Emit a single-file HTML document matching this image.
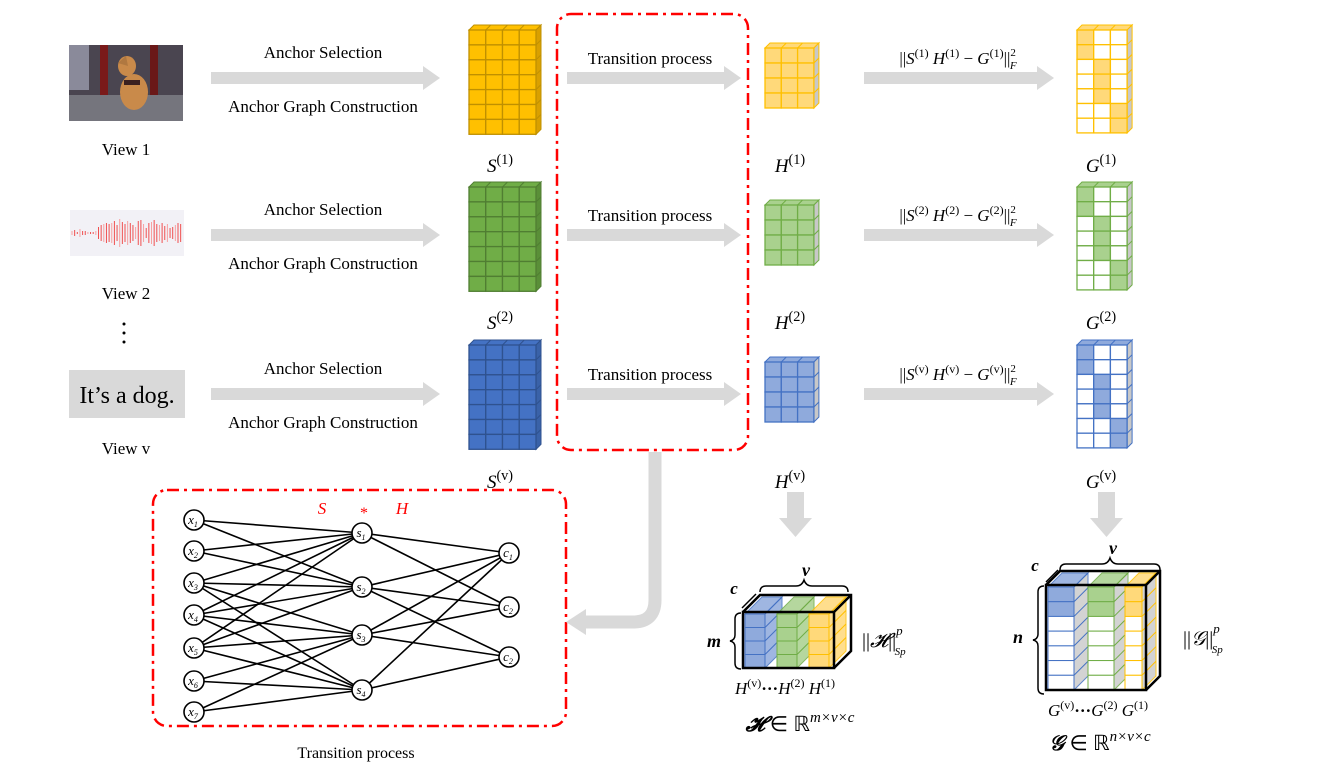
<!DOCTYPE html>
<html><head><meta charset="utf-8">
<style>
html,body{margin:0;padding:0;background:#fff;}
svg{display:block;}
text{font-family:"Liberation Serif",serif;fill:#000;}
.m{font-style:italic;}
</style></head>
<body>
<svg id="s" width="1329" height="764" viewBox="0 0 1329 764" xmlns="http://www.w3.org/2000/svg">
<defs>
<marker id="ah" markerWidth="4" markerHeight="4" refX="0" refY="2" orient="auto" markerUnits="strokeWidth"></marker>
</defs>
<!-- View 1 photo -->
<g>
<rect x="69" y="45" width="114" height="76" fill="#4a4550"/>
<rect x="69" y="45" width="20" height="45" fill="#8a8a9a"/>
<rect x="100" y="45" width="8" height="50" fill="#7a1a1a"/>
<rect x="150" y="45" width="8" height="50" fill="#6a1818"/>
<rect x="69" y="95" width="114" height="26" fill="#75757d"/>
<ellipse cx="134" cy="92" rx="14" ry="18" fill="#c98a4a"/>
<ellipse cx="127" cy="66" rx="9" ry="10" fill="#c98a4a"/>
<polygon points="118,63 126,56 128,66" fill="#b07840"/>
<rect x="124" y="80" width="16" height="5" fill="#3a2020"/>
</g>
<text x="126" y="155" font-size="17" text-anchor="middle">View 1</text>
<!-- View 2 waveform -->
<rect x="70" y="210" width="114" height="46" fill="#f2f1f6"/>
<g id="wave" stroke="#f05050" stroke-width="1"></g>
<text x="126" y="299" font-size="17" text-anchor="middle">View 2</text>
<circle cx="124" cy="324" r="1.5" fill="#000"/><circle cx="124" cy="333" r="1.5" fill="#000"/><circle cx="124" cy="342" r="1.5" fill="#000"/>
<rect x="69" y="370" width="116" height="48" fill="#d9d9d9"/>
<text x="127" y="403" font-size="24" text-anchor="middle">It’s a dog.</text>
<text x="126" y="454" font-size="17" text-anchor="middle">View v</text>

<g id="arrows" fill="#d9d9d9"></g>
<g id="labels"></g>

<!-- red dashed boxes -->
<rect x="557" y="14" width="191" height="436" rx="14" fill="none" stroke="#ff0000" stroke-width="2.5" stroke-dasharray="12,5,3,5"/>
<rect x="153" y="490" width="413" height="236" rx="14" fill="none" stroke="#ff0000" stroke-width="2.5" stroke-dasharray="12,5,3,5"/>

<!-- curved arrow -->
<path d="M655,452 L655,600 Q655,622 633,622 L585,622" fill="none" stroke="#d9d9d9" stroke-width="13"/>
<polygon points="586,609 566,622 586,635" fill="#d9d9d9"/>
<!-- down arrows -->
<rect x="787" y="492" width="17" height="28" fill="#d9d9d9"/>
<polygon points="779,518 812,518 795.5,537" fill="#d9d9d9"/>
<rect x="1098" y="492" width="17" height="28" fill="#d9d9d9"/>
<polygon points="1090,518 1123,518 1106.5,537" fill="#d9d9d9"/>

<g id="cubes"></g>
<g id="graph" stroke="#000" stroke-width="1.6"></g>
<g id="nodes"></g>
<text x="322" y="514" font-size="17" class="m" style="fill:#ff0000" text-anchor="middle">S</text>
<text x="364" y="518" font-size="16" style="fill:#ff0000" text-anchor="middle">*</text>
<text x="402" y="514" font-size="17" class="m" style="fill:#ff0000" text-anchor="middle">H</text>
<text x="356" y="758" font-size="16" text-anchor="middle">Transition process</text>

<g id="big"></g>
</svg>
<script>
var NS="http://www.w3.org/2000/svg";
function el(p,t,a,txt){var e=document.createElementNS(NS,t);for(var k in a)e.setAttribute(k,a[k]);if(txt!==undefined)e.textContent=txt;p.appendChild(e);return e;}
var S=document.getElementById('s');
// wave
var w=document.getElementById('wave');
var hs=[2,3,1,4,2,2,1,1,1,2,6,8,9,10,9,10,12,8,14,11,9,12,10,8,6,12,13,9,5,10,11,13,9,8,10,7,9,5,6,8,10,9];
for(var i=0;i<hs.length;i++){var x=72+i*2.65;var h=hs[i];el(w,'line',{x1:x,x2:x,y1:233-h,y2:233+h,stroke:(i%3==0?'#f8a0a0':'#f05050')});}
// arrows
var A=document.getElementById('arrows');
function harrow(x1,x2,y){el(A,'rect',{x:x1,y:y-6,width:x2-x1-16,height:12});el(A,'polygon',{points:(x2-17)+','+(y-12)+' '+x2+','+y+' '+(x2-17)+','+(y+12)});}
var L=document.getElementById('labels');
function t(x,y,s,sz,anc){return el(L,'text',{x:x,y:y,'font-size':sz||17,'text-anchor':anc||'middle'},s);}
function math(x,y,base,sup,sz){var tx=el(L,'text',{x:x,y:y,'font-size':sz||19,'text-anchor':'middle'});el(tx,'tspan',{'font-style':'italic'},base);el(tx,'tspan',{dy:-8,'font-size':(sz||19)*0.75},sup);return tx;}
var rows=[78,235,394],sups=['(1)','(2)','(v)'];
for(var r=0;r<3;r++){var y=rows[r];
harrow(211,440,y);harrow(567,741,y);harrow(864,1054,y);
t(323,y-20,'Anchor Selection');t(323,y+34,'Anchor Graph Construction');
t(650,y-14,'Transition process');
var tx=el(L,'text',{x:958,y:y-14,'font-size':17,'text-anchor':'middle'});
el(tx,'tspan',{},'||');el(tx,'tspan',{'font-style':'italic'},'S');el(tx,'tspan',{dy:-7,'font-size':12},sups[r]);
el(tx,'tspan',{dy:7,'font-style':'italic'},' H');el(tx,'tspan',{dy:-7,'font-size':12},sups[r]);
el(tx,'tspan',{dy:7},' − ');el(tx,'tspan',{'font-style':'italic'},'G');el(tx,'tspan',{dy:-7,'font-size':12},sups[r]);
el(tx,'tspan',{dy:7},'||');el(tx,'tspan',{dy:-8,'font-size':11},'2');el(tx,'tspan',{dx:-6,dy:13,'font-size':11,'font-style':'italic'},'F');
math(500,y+94,'S',sups[r]);math(790,y+94,'H',sups[r]);math(1101,y+94,'G',sups[r]);
}
// cubes
var C=document.getElementById('cubes');
function cube(x,y,cols,rows,cw,ch,d,fill,stroke,side,top,mask){
var W=cols*cw,H=rows*ch;
el(C,'polygon',{points:x+','+y+' '+(x+d)+','+(y-d)+' '+(x+W+d)+','+(y-d)+' '+(x+W)+','+y,fill:top,stroke:stroke,'stroke-width':1});
for(var c=1;c<cols;c++)el(C,'line',{x1:x+c*cw,y1:y,x2:x+c*cw+d,y2:y-d,stroke:stroke});
el(C,'polygon',{points:(x+W)+','+y+' '+(x+W+d)+','+(y-d)+' '+(x+W+d)+','+(y+H-d)+' '+(x+W)+','+(y+H),fill:side,stroke:stroke,'stroke-width':1});
for(var rr=1;rr<rows;rr++)el(C,'line',{x1:x+W,y1:y+rr*ch,x2:x+W+d,y2:y+rr*ch-d,stroke:stroke});
for(var rr=0;rr<rows;rr++)for(var c=0;c<cols;c++){var f=fill;if(mask){f=mask(rr,c)?fill:'#fff';}
el(C,'rect',{x:x+c*cw,y:y+rr*ch,width:cw,height:ch,fill:f,stroke:stroke,'stroke-width':1.3});}
}
var Sc=[['#ffc000','#bf9000','#d9a000'],['#70ad47','#507e32','#5a8f38'],['#4472c4','#2f528f','#3a62a8']];
var Hc=[['#ffd97a','#ffc000','#e8c060'],['#a9d18e','#70ad47','#90b878'],['#8faadc','#4472c4','#7a96c8']];
var sy=[30,187,345],hy=[48,205,362],gy=[30,187,345];
for(var r=0;r<3;r++){
cube(469,sy[r],4,7,16.75,14.9,5,Sc[r][0],Sc[r][1],Sc[r][2],Sc[r][0]);
cube(765,hy[r],3,4,16.3,15,5,Hc[r][0],Hc[r][1],'#c8c8c8',Hc[r][0]);
cube(1077,gy[r],3,7,16.7,14.7,5,Hc[r][0],Hc[r][1],'#c8c8c8',Hc[r][0],function(rr,c){return (c==0&&rr<2)||(c==1&&rr>=2&&rr<5)||(c==2&&rr>=5);});
}
// graph
var G=document.getElementById('graph'),N=document.getElementById('nodes');
var xs=[520,551,583,615,648,681,712],ss=[533,587,635,690],cs=[553,607,657];
var xe=[[0,1],[0,1],[0,1,2,3],[0,1,2,3],[0,1,2,3],[2,3],[2,3]];
for(var i=0;i<7;i++)for(var j=0;j<xe[i].length;j++)el(G,'line',{x1:194,y1:xs[i],x2:362,y2:ss[xe[i][j]]});
var se=[[0,1],[0,1,2],[0,1,2],[0,2]];
for(var i=0;i<4;i++)for(var j=0;j<se[i].length;j++)el(G,'line',{x1:362,y1:ss[i],x2:509,y2:cs[se[i][j]]});
function node(x,y,l,s){el(N,'circle',{cx:x,cy:y,r:10,fill:'#fff',stroke:'#000','stroke-width':1.6});var tx=el(N,'text',{x:x-1,y:y+4,'font-size':13,'text-anchor':'middle','font-style':'italic'});el(tx,'tspan',{},l);el(tx,'tspan',{dy:3,'font-size':8},s);}
for(var i=0;i<7;i++)node(194,xs[i],'x',i+1);
for(var i=0;i<4;i++)node(362,ss[i],'s',i+1);
node(509,cs[0],'c',1);node(509,cs[1],'c',2);node(509,cs[2],'c',2);
// big cubes
var B=document.getElementById('big');
function slab(x,y,w,h,d,fill,stroke,n,mask){
el(B,'polygon',{points:x+','+y+' '+(x+d)+','+(y-d)+' '+(x+w+d)+','+(y-d)+' '+(x+w)+','+y,fill:fill,stroke:stroke,opacity:0.85});
el(B,'polygon',{points:(x+w)+','+y+' '+(x+w+d)+','+(y-d)+' '+(x+w+d)+','+(y+h-d)+' '+(x+w)+','+(y+h),fill:mask?'#ccc':fill,stroke:stroke,opacity:0.85});
var ch=h/n;for(var k=0;k<n;k++){el(B,'rect',{x:x,y:y+k*ch,width:w,height:ch,fill:(mask&&!mask(k))?'#fff':fill,stroke:stroke});
el(B,'line',{x1:x+w,y1:y+k*ch,x2:x+w+d,y2:y+k*ch-d,stroke:stroke});}
}
// H cube
var hx=743,hyy=612,hw=91,hh=56,hd=17;
slab(hx+2,hyy+2,20,hh-2,hd,'#8faadc','#4472c4',4);
slab(hx+34,hyy+2,20,hh-2,hd,'#a9d18e','#70ad47',4);
slab(hx+66,hyy+2,20,hh-2,hd,'#ffd97a','#ffc000',4);
el(B,'rect',{x:hx,y:hyy,width:hw,height:hh,fill:'none',stroke:'#000','stroke-width':2.5});
el(B,'polyline',{points:hx+','+hyy+' '+(hx+hd)+','+(hyy-hd)+' '+(hx+hw+hd)+','+(hyy-hd)+' '+(hx+hw+hd)+','+(hyy+hh-hd)+' '+(hx+hw)+','+(hyy+hh),fill:'none',stroke:'#000','stroke-width':2.5});
el(B,'line',{x1:hx+hw,y1:hyy,x2:hx+hw+hd,y2:hyy-hd,stroke:'#000','stroke-width':2.5});
function brace(d){el(B,'path',{d:d,fill:'none',stroke:'#000','stroke-width':1.5});}
brace('M760,592 q0,-6 6,-6 l30,0 q6,0 8,-6 q2,6 8,6 l30,0 q6,0 6,6');
brace('M741,613 q-6,0 -6,6 l0,16 q0,5 -5,6 q5,1 5,6 l0,16 q0,6 6,6');
brace('M742,608 l14,-14');
var bt=function(x,y,s,sz){return el(B,'text',{x:x,y:y,'font-size':sz,'text-anchor':'middle','font-style':'italic','font-weight':'bold'},s);};
bt(806,576,'v',18);bt(734,594,'c',17);bt(714,647,'m',18);
var tx=el(B,'text',{x:862,y:647,'font-size':20});el(tx,'tspan',{},'||');el(tx,'tspan',{'font-style':'italic','font-family':'Liberation Serif'},'𝓗');el(tx,'tspan',{},'||');el(tx,'tspan',{dy:-12,'font-size':13,'font-style':'italic'},'p');el(tx,'tspan',{dx:-8,dy:20,'font-size':11,'font-style':'italic'},'Sp');
var l=el(B,'text',{x:785,y:694,'font-size':17,'text-anchor':'middle'});
el(l,'tspan',{'font-style':'italic'},'H');el(l,'tspan',{dy:-7,'font-size':12},'(v)');el(l,'tspan',{dy:7,'font-weight':'bold'},'···');el(l,'tspan',{'font-style':'italic'},'H');el(l,'tspan',{dy:-7,'font-size':12},'(2)');el(l,'tspan',{dy:7,'font-style':'italic'},' H');el(l,'tspan',{dy:-7,'font-size':12},'(1)');
var l2=el(B,'text',{x:800,y:731,'font-size':21,'text-anchor':'middle'});
el(l2,'tspan',{'font-style':'italic','font-weight':'bold'},'𝓗');el(l2,'tspan',{},' ∈ ℝ');el(l2,'tspan',{dy:-9,'font-size':15,'font-style':'italic'},'m×v×c');
// G cube
var gx=1046,gyy=585,gw=100,gh=105,gd=14;
var mk=function(off){return function(k){return k<off;};};
slab(gx+2,gyy+2,26,gh-2,gd,'#8faadc','#4472c4',7,function(k){return k<2;});
slab(gx+42,gyy+2,26,gh-2,gd,'#a9d18e','#70ad47',7,function(k){return k<2;});
slab(gx+79,gyy+2,17,gh-2,gd,'#ffd97a','#ffc000',7,function(k){return k<2;});
el(B,'rect',{x:gx,y:gyy,width:gw,height:gh,fill:'none',stroke:'#000','stroke-width':2.5});
el(B,'polyline',{points:gx+','+gyy+' '+(gx+gd)+','+(gyy-gd)+' '+(gx+gw+gd)+','+(gyy-gd)+' '+(gx+gw+gd)+','+(gyy+gh-gd)+' '+(gx+gw)+','+(gyy+gh),fill:'none',stroke:'#000','stroke-width':2.5});
el(B,'line',{x1:gx+gw,y1:gyy,x2:gx+gw+gd,y2:gyy-gd,stroke:'#000','stroke-width':2.5});
brace('M1060,570 q0,-6 6,-6 l36,0 q6,0 8,-6 q2,6 8,6 l36,0 q6,0 6,6');
brace('M1044,586 q-6,0 -6,6 l0,42 q0,5 -5,6 q5,1 5,6 l0,42 q0,6 6,6');
brace('M1046,582 l12,-12');
bt(1113,554,'v',18);bt(1035,571,'c',17);bt(1018,643,'n',18);
var tx=el(B,'text',{x:1183,y:645,'font-size':20});el(tx,'tspan',{},'||');el(tx,'tspan',{'font-style':'italic'},'𝒢');el(tx,'tspan',{},'||');el(tx,'tspan',{dy:-12,'font-size':13,'font-style':'italic'},'p');el(tx,'tspan',{dx:-8,dy:20,'font-size':11,'font-style':'italic'},'Sp');
var l=el(B,'text',{x:1098,y:716,'font-size':17,'text-anchor':'middle'});
el(l,'tspan',{'font-style':'italic'},'G');el(l,'tspan',{dy:-7,'font-size':12},'(v)');el(l,'tspan',{dy:7,'font-weight':'bold'},'···');el(l,'tspan',{'font-style':'italic'},'G');el(l,'tspan',{dy:-7,'font-size':12},'(2)');el(l,'tspan',{dy:7,'font-style':'italic'},' G');el(l,'tspan',{dy:-7,'font-size':12},'(1)');
var l2=el(B,'text',{x:1100,y:750,'font-size':21,'text-anchor':'middle'});
el(l2,'tspan',{'font-style':'italic','font-weight':'bold'},'𝒢');el(l2,'tspan',{},' ∈ ℝ');el(l2,'tspan',{dy:-9,'font-size':15,'font-style':'italic'},'n×v×c');
</script>
</body></html>
